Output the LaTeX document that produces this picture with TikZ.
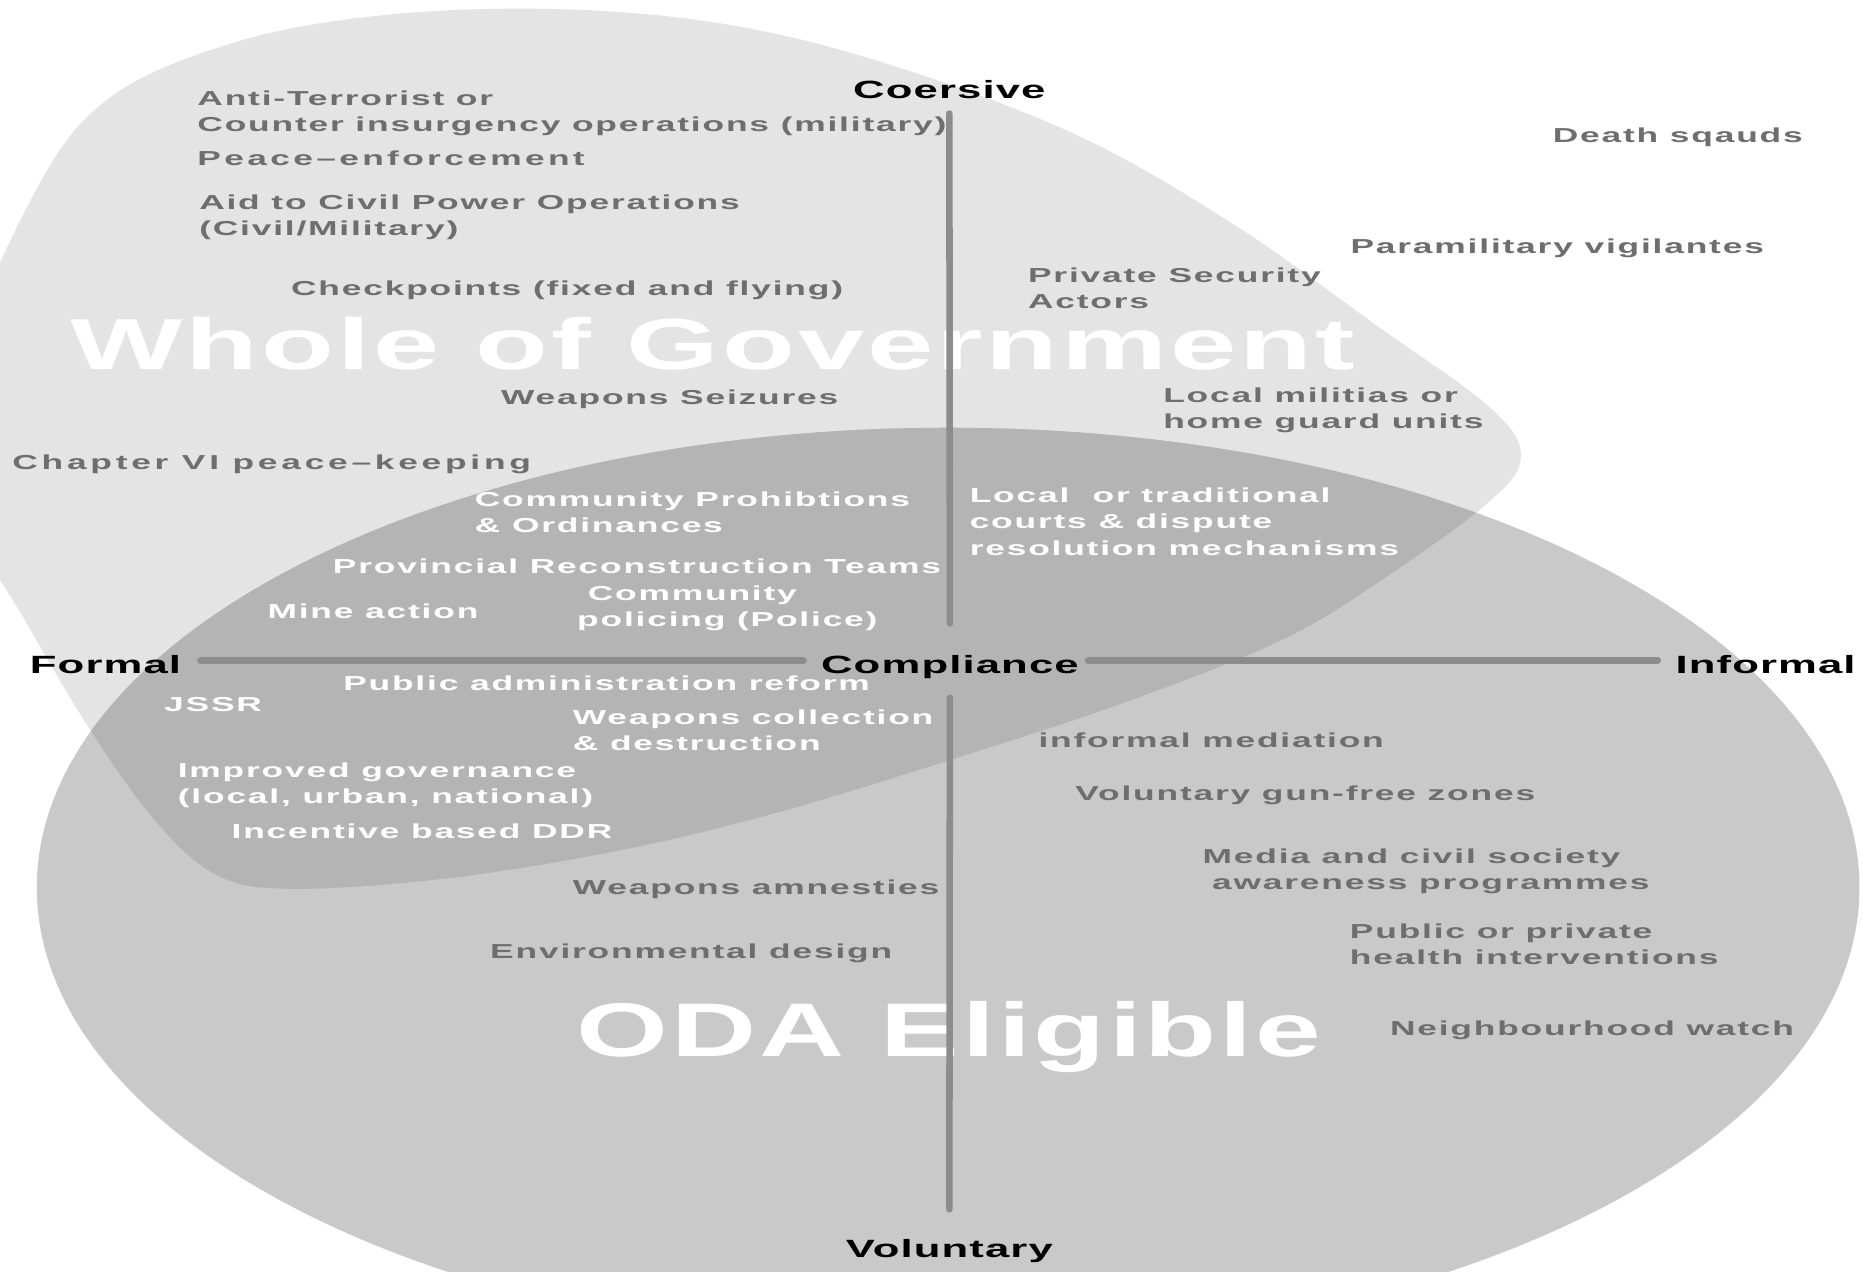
\documentclass[tikz,border=0pt]{standalone}
\usepackage{fontspec}
\newfontfamily\itemfont[FakeStretch=1.75,LetterSpace=9]{Liberation Sans}
\newfontfamily\axfont[FakeStretch=1.75,LetterSpace=4.5]{Liberation Sans}
\newfontfamily\wogfont[FakeStretch=1.65,LetterSpace=4]{Liberation Sans}
\newfontfamily\odafont[FakeStretch=1.55,LetterSpace=4]{Liberation Sans}
\definecolor{wogfill}{RGB}{228,228,228}
\definecolor{odafill}{RGB}{201,201,201}
\definecolor{bothfill}{RGB}{180,180,180}
\definecolor{itemgray}{RGB}{110,110,110}
\definecolor{axgray}{RGB}{140,140,140}
\tikzset{
  grayitem/.style={anchor=north west, inner sep=0pt, align=left, text=itemgray,
    font=\itemfont\bfseries\fontsize{17}{22}\selectfont},
  whiteitem/.style={grayitem, text=white},
  widegap/.style={font=\itemfont\bfseries\fontsize{17}{22}\selectfont\addfontfeature{LetterSpace=#1}},
  axlbl/.style={anchor=base, inner sep=0pt, text height=22pt, text depth=0pt,
    font=\axfont\bfseries\fontsize{21}{24}\selectfont},
  axline/.style={draw=axgray, line width=5.5pt, line cap=round},
  bigword/.style={anchor=base west, inner sep=0pt, text=white}
}
\newcommand\wogblob{plot[smooth cycle, tension=0.6] coordinates {(-40,330) (25,170) (90,84) (200,35) (330,12) (480,8) (620,22) (757,57) (909,115) (1040,190) (1160,275) (1254,343) (1280,385) (1250,425) (1160,490) (1078,539) (950,590) (808,637) (650,685) (515,717) (370,740) (240,748) (180,735) (130,690) (77,616) (21,522) (-30,430)}}

\begin{document}
\begin{tikzpicture}[x=1pt, y=-1pt]
\useasboundingbox (0,0) rectangle (1568,1070);
\clip (0,0) rectangle (1568,1070);
\fill[white] (0,0) rectangle (1568,1070);
\fill[wogfill] \wogblob;
\fill[odafill] (798,747) ellipse [x radius=767pt, y radius=387pt];
\begin{scope}
  \clip (798,747) ellipse [x radius=767pt, y radius=387pt];
  \fill[bothfill] \wogblob;
\end{scope}

\node[bigword, font=\wogfont\bfseries\fontsize{60.8}{70}\selectfont] (wog) at (59,311.4) {Whole of Government};
\node[bigword, font=\odafont\bfseries\fontsize{64}{72}\selectfont] (oda) at (485.4,889.5) {ODA Eligible};

\node[axlbl] (coe) at (799,83) {Coersive};
\node[axlbl] (comp) at (799.5,567) {Compliance};
\node[axlbl] (vol) at (799,1058) {Voluntary};
\node[axlbl, anchor=base west] (frm) at (25,567) {Formal};
\node[axlbl, anchor=base east] (inf) at (1562,567) {Informal};
\draw[axline, shorten <=12.4pt, shorten >=20pt] (coe) -- (comp);
\draw[axline, shorten <=20pt, shorten >=18pt] (comp) -- (vol);
\draw[axline, shorten <=16pt, shorten >=14.75pt] (frm) -- (comp);
\draw[axline, shorten <=7.75pt, shorten >=14.75pt] (comp) -- (inf);

\node[grayitem] (antiterr) at (166,76.5) {Anti-Terrorist or\\Counter insurgency operations (military)};
\node[grayitem, widegap=16.5] (peace) at (166,126.5) {Peace–enforcement};
\node[grayitem] (aidciv) at (167.5,164) {Aid to Civil Power Operations\\(Civil/Military)};
\node[grayitem] (checkp) at (244.8,236.4) {Checkpoints (fixed and flying)};
\node[grayitem] (wseize) at (421.6,328) {Weapons Seizures};
\node[grayitem, widegap=18.5] (chap6) at (10.3,382.5) {Chapter VI peace–keeping};
\node[grayitem] (death) at (1306.7,107.2) {Death sqauds};
\node[grayitem] (paramil) at (1136.5,201) {Paramilitary vigilantes};
\node[grayitem] (privsec) at (865.1,225) {Private Security\\Actors};
\node[grayitem] (militia) at (978.9,326.5) {Local militias or\\home guard units};

\node[whiteitem] (commproh) at (399.5,414) {Community Prohibtions\\\& Ordinances};
\node[whiteitem] (courts) at (816,410.7) {Local\ \ or traditional\\courts \& dispute\\resolution mechanisms};
\node[whiteitem] (prt) at (280,469.8) {Provincial Reconstruction Teams};
\node[whiteitem] (commpol) at (485.6,493) {\hspace*{9pt}Community\\policing (Police)};
\node[whiteitem] (mine) at (225,508) {Mine action};
\node[whiteitem] (pubadm) at (288.7,569) {Public administration reform};
\node[whiteitem] (jssr) at (138,586.5) {JSSR};
\node[whiteitem] (wcoll) at (482,597) {Weapons collection\\\& destruction};
\node[whiteitem] (impgov) at (149.5,641.7) {Improved governance\\(local, urban, national)};
\node[whiteitem] (ddr) at (194.8,693.1) {Incentive based DDR};

\node[grayitem] (wamn) at (482,740.3) {Weapons amnesties};
\node[grayitem] (envdes) at (412.4,793.8) {Environmental design};
\node[grayitem] (infmed) at (873.9,616.9) {informal mediation};
\node[grayitem] (gunfree) at (904.9,661) {Voluntary gun-free zones};
\node[grayitem] (media) at (1012,714) {Media and civil society\\\hspace*{8pt}awareness programmes};
\node[grayitem] (health) at (1136,777) {Public or private\\health interventions};
\node[grayitem] (nwatch) at (1169.7,859) {Neighbourhood watch};
\end{tikzpicture}
\end{document}
